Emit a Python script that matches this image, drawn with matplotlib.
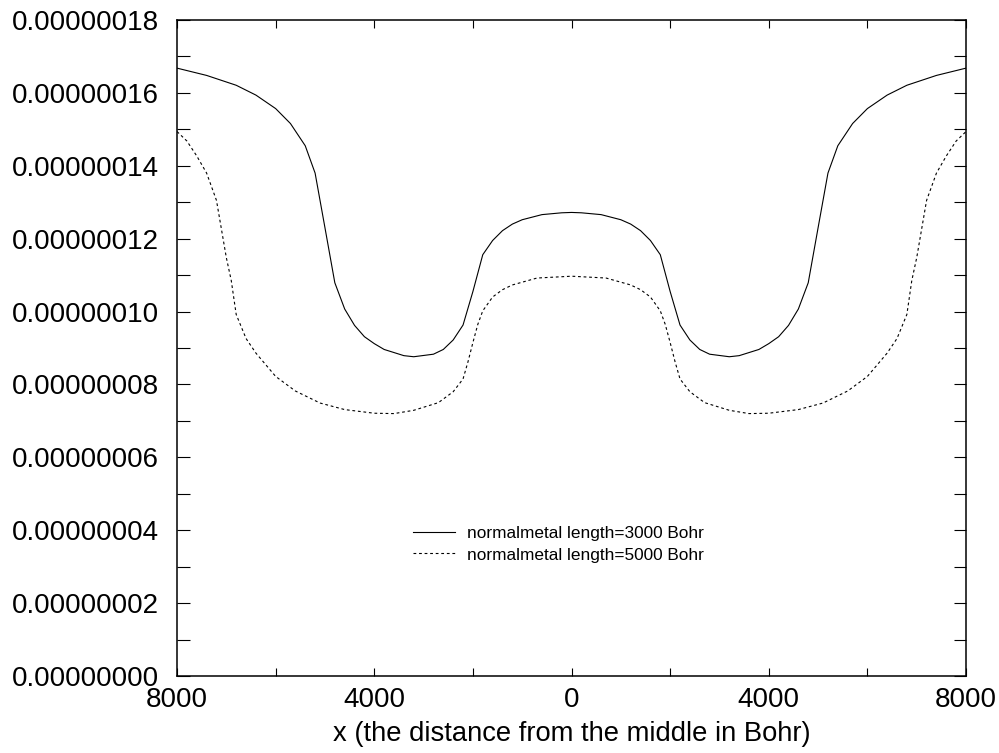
import numpy as np
import matplotlib
matplotlib.use("Agg")
import matplotlib.pyplot as plt
from matplotlib.ticker import MultipleLocator, FuncFormatter

plt.rcParams['font.family'] = ['Liberation Sans', 'DejaVu Sans']

# normalmetal length = 3000 Bohr (values in units of 1e-8)
x_3000 = [-8000, -7400, -6800, -6400, -6000, -5700, -5400, -5200, -5000, -4800,
          -4600, -4400, -4200, -4000, -3800, -3400, -3200, -2800, -2600, -2400,
          -2200, -2000, -1800, -1600, -1400, -1200, -1000, -600, -200, 0,
          200, 600, 1000, 1200, 1400, 1600, 1800, 2000, 2200, 2400, 2600, 2800,
          3200, 3400, 3800, 4000, 4200, 4400, 4600, 4800, 5000, 5200, 5400,
          5700, 6000, 6400, 6800, 7400, 8000]
y_3000 = [16.68, 16.48, 16.21, 15.94, 15.57, 15.16, 14.55, 13.80, 12.30, 10.79,
          10.07, 9.62, 9.31, 9.12, 8.96, 8.79, 8.76, 8.83, 8.96, 9.22,
          9.63, 10.55, 11.56, 11.95, 12.22, 12.40, 12.52, 12.66, 12.71, 12.72,
          12.71, 12.66, 12.52, 12.40, 12.22, 11.95, 11.56, 10.55, 9.63, 9.22, 8.96, 8.83,
          8.76, 8.79, 8.96, 9.12, 9.31, 9.62, 10.07, 10.79, 12.30, 13.80, 14.55,
          15.16, 15.57, 15.94, 16.21, 16.48, 16.68]

# normalmetal length = 5000 Bohr (values in units of 1e-8)
x_5000 = [-8000, -7800, -7600, -7400, -7200, -7000, -6900, -6800, -6600, -6400,
          -6000, -5600, -5100, -4600, -4000, -3600, -3200, -2700, -2400, -2200,
          -2100, -2000, -1900, -1800, -1600, -1400, -1200, -700, 0,
          700, 1200, 1400, 1600, 1800, 1900, 2000, 2100, 2200, 2400, 2700,
          3200, 3600, 4000, 4600, 5100, 5600, 6000, 6400, 6600, 6800, 6900,
          7000, 7200, 7400, 7600, 7800, 8000]
y_5000 = [14.94, 14.68, 14.27, 13.80, 13.05, 11.48, 10.85, 9.92, 9.26, 8.86,
          8.22, 7.82, 7.49, 7.31, 7.21, 7.20, 7.29, 7.50, 7.80, 8.15,
          8.62, 9.15, 9.65, 10.02, 10.40, 10.60, 10.73, 10.92, 10.97,
          10.92, 10.73, 10.60, 10.40, 10.02, 9.65, 9.15, 8.62, 8.15, 7.80, 7.50,
          7.29, 7.20, 7.21, 7.31, 7.49, 7.82, 8.22, 8.86, 9.26, 9.92, 10.85,
          11.48, 13.05, 13.80, 14.27, 14.68, 14.94]

labels = ["normalmetal length=3000 Bohr", "normalmetal length=5000 Bohr"]

fig = plt.figure(figsize=(9.99, 7.53), dpi=100)
ax = fig.add_axes([0.1772, 0.1023, 0.7898, 0.8711])

ax.plot(x_3000, np.array(y_3000) * 1e-8, color='black', lw=0.8, label=labels[0])
ax.plot(x_5000, np.array(y_5000) * 1e-8, color='black', lw=0.8,
        linestyle=(0, (2.5, 2.5)), label=labels[1])

ax.set_xlim(-8000, 8000)
ax.set_ylim(0, 1.8e-7)

ax.xaxis.set_major_locator(MultipleLocator(4000))
ax.xaxis.set_minor_locator(MultipleLocator(2000))
ax.yaxis.set_major_locator(MultipleLocator(2e-8))
ax.yaxis.set_minor_locator(MultipleLocator(1e-8))
ax.xaxis.set_major_formatter(FuncFormatter(lambda v, p: f"{abs(v):.0f}"))
ax.yaxis.set_major_formatter(FuncFormatter(lambda v, p: f"{v:.8f}"))

ax.tick_params(axis='both', which='both', direction='in', top=True, right=True,
               width=0.8, labelsize=20)
ax.tick_params(axis='x', which='both', length=6, pad=8)
ax.tick_params(axis='y', which='both', length=9, pad=13)
for s in ax.spines.values():
    s.set_linewidth(1.1)

ax.set_xlabel("x (the distance from the middle in Bohr)", fontsize=19.7, labelpad=6)

ax.legend(loc='center', bbox_to_anchor=(0.483, 0.2005), frameon=False,
          fontsize=12.4, handlelength=2.45, handletextpad=0.7,
          labelspacing=0.35, borderpad=0)

fig.savefig("out.png", dpi=100)
